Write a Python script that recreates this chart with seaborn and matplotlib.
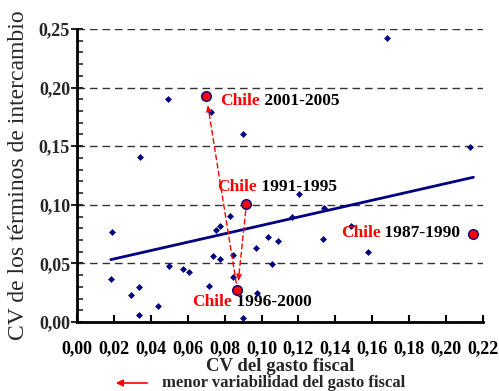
import matplotlib
matplotlib.use("Agg")
import matplotlib.pyplot as plt
from matplotlib.ticker import MultipleLocator
import pandas as pd
import seaborn as sns

# Countries: CV of fiscal spending (x) vs CV of terms of trade (y)
cv_gasto = [0.0190, 0.0183, 0.0294, 0.0334, 0.0338, 0.0437, 0.0497, 0.0573, 0.0609,
            0.0717, 0.0739, 0.0753, 0.0775, 0.0828, 0.0777, 0.0844, 0.0846, 0.0898,
            0.0976, 0.0968, 0.1033, 0.1088, 0.1057, 0.1165, 0.1205, 0.1332, 0.1339,
            0.1485, 0.1576, 0.2128, 0.0491, 0.0728, 0.0900, 0.0340, 0.1678]
cv_terminos = [0.0765, 0.0367, 0.0230, 0.0296, 0.0060, 0.0139, 0.0480, 0.0455, 0.0424,
               0.0304, 0.0560, 0.0788, 0.0822, 0.0904, 0.0540, 0.0574, 0.0380, 0.0034,
               0.0250, 0.0631, 0.0725, 0.0688, 0.0497, 0.0893, 0.1092, 0.0705, 0.0970,
               0.0819, 0.0597, 0.1493, 0.1900, 0.1792, 0.1604, 0.1408, 0.2420]

# Chile by period
chile_periodo = ["1987-1990", "1991-1995", "1996-2000", "2001-2005"]
chile_gasto = [0.2145, 0.0918, 0.0869, 0.0701]
chile_terminos = [0.0748, 0.1007, 0.0273, 0.1926]

# Trend line (end points)
tend_x = [0.0183, 0.2148]
tend_y = [0.0532, 0.1235]

x_ticks = [0.00, 0.02, 0.04, 0.06, 0.08, 0.10, 0.12, 0.14, 0.16, 0.18, 0.20, 0.22]
x_tick_labels = ["0,00", "0,02", "0,04", "0,06", "0,08", "0,10", "0,12", "0,14",
                 "0,16", "0,18", "0,20", "0,22"]
y_ticks = [0.00, 0.05, 0.10, 0.15, 0.20, 0.25]
y_tick_labels = ["0,00", "0,05", "0,10", "0,15", "0,20", "0,25"]

# label anchor (left edge, vertical centre) for each Chile period
label_pos = {"1987-1990": (0.1429, 0.0757), "1991-1995": (0.0759, 0.1152),
             "1996-2000": (0.0622, 0.0173), "2001-2005": (0.0775, 0.1886)}

NAVY = "#000080"
RED = "#ff0000"

sns.set_style("ticks")
plt.rcParams["font.family"] = ["Liberation Serif", "DejaVu Serif"]

fig = plt.figure(figsize=(4.99, 3.91), dpi=100)
ax = fig.add_axes([77 / 499, 1 - 322 / 391, 406 / 499, 293 / 391])

paises = pd.DataFrame({"gasto": cv_gasto, "terminos": cv_terminos})
chile = pd.DataFrame({"gasto": chile_gasto, "terminos": chile_terminos, "periodo": chile_periodo})
tend = pd.DataFrame({"x": tend_x, "y": tend_y})

ax.set_xlim(0, 0.22)
ax.set_ylim(0, 0.25)
ax.yaxis.grid(True, linestyle=(0, (5.5, 3.5)), color="#333333", linewidth=1)
ax.set_axisbelow(True)

sns.lineplot(data=tend, x="x", y="y", color=NAVY, linewidth=2, ax=ax, zorder=3)
sns.scatterplot(data=paises, x="gasto", y="terminos", marker="D", s=9, color=NAVY,
                edgecolor=NAVY, linewidth=0.5, ax=ax, zorder=4)

# dashed arrows: 1991-1995 -> 1996-2000 -> 2001-2005
for i in (1, 2):
    ax.annotate("", xy=(chile_gasto[i + 1], chile_terminos[i + 1]),
                xytext=(chile_gasto[i], chile_terminos[i]),
                arrowprops=dict(arrowstyle="-|>,head_length=0.4,head_width=0.15",
                                color=RED, linestyle=(0, (3.5, 2.5)), linewidth=1,
                                shrinkA=5, shrinkB=6), zorder=5)

sns.scatterplot(data=chile, x="gasto", y="terminos", s=48, color=RED, edgecolor=NAVY,
                linewidth=1, ax=ax, zorder=6)

for periodo in chile_periodo:
    lx, ly = label_pos[periodo]
    t = ax.text(lx, ly, "Chile", color=RED, fontsize=12.5, fontweight="bold",
                va="center", ha="left", zorder=7)
    ax.annotate(" " + periodo, xy=(1, 0), xycoords=t, va="bottom", ha="left",
                fontsize=12.5, fontweight="bold", color="black", zorder=7)

ax.set_xticks(x_ticks)
ax.set_xticklabels(x_tick_labels, fontsize=13, fontweight="bold")
ax.set_yticks(y_ticks)
ax.set_yticklabels(y_tick_labels, fontsize=13, fontweight="bold")
ax.yaxis.set_minor_locator(MultipleLocator(0.01))
ax.tick_params(axis="x", direction="in", length=5, width=1.5, pad=13, colors="black")
ax.tick_params(axis="y", which="major", direction="inout", length=8, width=1.5, pad=1)
ax.tick_params(axis="y", which="minor", direction="in", length=4, width=1.2)

for side in ("top", "right"):
    ax.spines[side].set_visible(False)
for side in ("left", "bottom"):
    ax.spines[side].set_linewidth(2)
    ax.spines[side].set_color("black")

ax.set_xlabel("CV del gasto fiscal", fontsize=13.5, fontweight="bold")
ax.xaxis.set_label_coords(0.5, -0.123)
ax.set_ylabel("CV de los términos de intercambio", fontsize=17)
ax.yaxis.set_label_coords(-0.144, 0.5)
ax.yaxis.label.set_va("center")

# footnote with arrow
fig.text(162 / 499, 1 - 383 / 391, "menor variabilidad del gasto fiscal",
         fontsize=12, fontweight="bold", va="center", ha="left")
fig.add_artist(matplotlib.patches.FancyArrowPatch(
    (150 / 499, 1 - 383 / 391), (113 / 499, 1 - 383 / 391),
    transform=fig.transFigure, arrowstyle="-|>,head_length=4,head_width=2",
    color=RED, linewidth=1.2))

fig.savefig("out.png", dpi=100)
